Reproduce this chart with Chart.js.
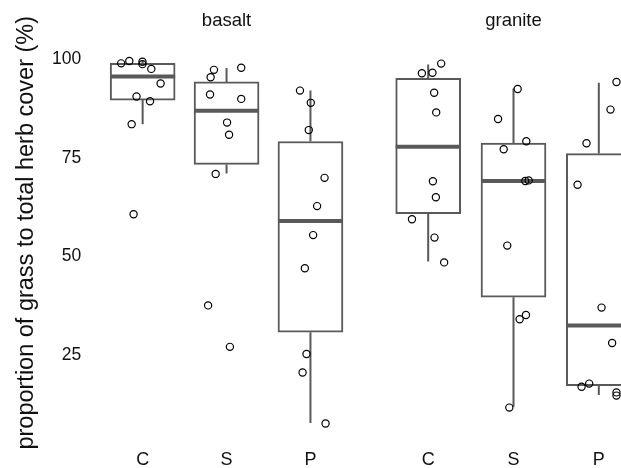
<!DOCTYPE html>
<html>
<head>
<meta charset="utf-8">
<script src="https://cdn.jsdelivr.net/npm/chart.js@4.4.1/dist/chart.umd.min.js"></script>
<style>
  html, body { margin: 0; padding: 0; background: #fff; overflow: hidden; width: 621px; height: 468px; position: relative; }
  canvas { position: absolute; top: 0; }
  #basalt { left: 0; }
  #granite { left: 370px; }
</style>
</head>
<body>
<canvas id="basalt" width="366" height="468"></canvas>
<canvas id="granite" width="290" height="468"></canvas>
<script>
const categories = ["C", "S", "P"];
const yTicks = [25, 50, 75, 100];
const yTitle = "proportion of grass to total herb cover (%)";

// box stats per category: whisker low, q1, median, q3, whisker high
const basaltLow = [83.5, 71, 7.8];
const basaltQ1 = [89.6, 73.3, 30.8];
const basaltMedian = [95.6, 86.9, 59];
const basaltQ3 = [98.9, 94.2, 79.1];
const basaltHigh = [99.5, 97.7, 92];

const graniteLow = [48.1, 11.8, 14.75];
const graniteQ1 = [60.1, 39.2, 17.1];
const graniteMedian = [76.8, 68.25, 32.1];
const graniteQ3 = [93.9, 77.7, 75.1];
const graniteHigh = [97.4, 91.4, 92.8];

// observations: category index + jitter, value
const basaltPointsX = [
  -0.256, -0.159, -0.002, -0.002, 0.103, 0.214, -0.073, 0.088, -0.131, -0.108,
  0.85, 0.81, 1.175, 0.803, 1.175, 1.006, 1.03, 0.87, 0.78, 1.04,
  1.875, 2.004, 1.98, 2.168, 2.079, 2.032, 1.933, 1.953, 1.906, 2.18
];
const basaltPointsY = [
  98.9, 99.5, 99.3, 98.7, 97.5, 93.8, 90.5, 89.3, 83.5, 60.7,
  97.25, 95.4, 97.8, 91, 89.9, 83.9, 80.8, 70.9, 37.6, 27.1,
  92, 88.9, 82, 69.9, 62.75, 55.4, 47, 25.3, 20.6, 7.7
];
const granitePointsX = [
  -0.074, 0.05, 0.152, 0.07, 0.094, 0.055, 0.09, -0.19, 0.074, 0.187,
  1.049, 0.819, 1.15, 0.885, 1.138, 1.178, 0.927, 1.146, 1.072, 0.951,
  2.207, 2.137, 1.856, 1.751, 2.032, 2.156, 1.798, 1.887, 2.207, 2.207
];
const granitePointsY = [
  95.2, 95.3, 97.6, 90.3, 85.4, 68.2, 64.2, 58.7, 54.1, 47.9,
  91.25, 83.75, 78.2, 76.2, 68.25, 68.4, 52.1, 34.75, 33.7, 11.6,
  93, 86.1, 77.7, 67.3, 36.6, 27.75, 16.8, 17.6, 15.4, 14.6
];

const BOX_COLOR = "#595959";
const TEXT_COLOR = "#111111";
const FONT = "'Liberation Sans', Arial, sans-serif";

function boxExtras(label, low, q1, q3, high, median) {
  return {
    id: "boxExtras",
    beforeDatasetDraw(chart, args) {
      if (args.meta.type !== "scatter") return;
      const { ctx } = chart;
      const x = chart.scales.x;
      const y = chart.scales.y;
      const bars = chart.getDatasetMeta(0).data;
      ctx.save();
      ctx.strokeStyle = BOX_COLOR;
      ctx.lineCap = "butt";
      categories.forEach((c, i) => {
        const cx = x.getPixelForValue(i);
        ctx.lineWidth = 2;
        ctx.beginPath();
        ctx.moveTo(cx, y.getPixelForValue(q3[i]));
        ctx.lineTo(cx, y.getPixelForValue(high[i]));
        ctx.moveTo(cx, y.getPixelForValue(q1[i]));
        ctx.lineTo(cx, y.getPixelForValue(low[i]));
        ctx.stroke();
        const bar = bars[i];
        ctx.lineWidth = 4;
        ctx.beginPath();
        ctx.moveTo(bar.x - bar.width / 2, y.getPixelForValue(median[i]));
        ctx.lineTo(bar.x + bar.width / 2, y.getPixelForValue(median[i]));
        ctx.stroke();
      });
      ctx.restore();
    },
    afterDraw(chart) {
      const { ctx, chartArea } = chart;
      ctx.save();
      ctx.fillStyle = TEXT_COLOR;
      ctx.font = "18.5px " + FONT;
      ctx.textAlign = "center";
      ctx.textBaseline = "middle";
      ctx.fillText(label, (chartArea.left + chartArea.right) / 2, 21);
      ctx.restore();
    }
  };
}

function buildChart(canvasId, label, low, q1, median, q3, high, pointsX, pointsY, showY, padding) {
  const canvas = document.getElementById(canvasId);
  return new Chart(canvas.getContext("2d"), {
    type: "bar",
    data: {
      datasets: [
        {
          type: "bar",
          order: 1,
          data: categories.map((c, i) => ({ x: i, y: [q1[i], q3[i]] })),
          backgroundColor: "#ffffff",
          borderColor: BOX_COLOR,
          borderWidth: 2,
          borderSkipped: false,
          barThickness: 65
        },
        {
          type: "scatter",
          order: 0,
          data: pointsX.map((px, i) => ({ x: px, y: pointsY[i] })),
          pointStyle: "circle",
          pointRadius: 3.6,
          pointBorderWidth: 1.2,
          pointBorderColor: "#000000",
          pointBackgroundColor: "rgba(0,0,0,0)"
        }
      ]
    },
    options: {
      responsive: false,
      animation: false,
      layout: { padding: padding },
      plugins: { legend: { display: false }, tooltip: { enabled: false } },
      scales: {
        x: {
          type: "linear",
          min: -0.6,
          max: 2.6,
          offset: false,
          grid: { display: false, drawTicks: false, offset: false },
          border: { display: false },
          afterBuildTicks: (scale) => { scale.ticks = categories.map((c, i) => ({ value: i })); },
          afterFit: (scale) => { scale.height = 24; },
          ticks: {
            padding: 5,
            color: TEXT_COLOR,
            font: { size: 18, family: FONT },
            callback: (value) => categories[value]
          }
        },
        y: {
          display: showY,
          min: 2.5,
          max: 109.5,
          grid: { display: false, drawTicks: false },
          border: { display: false },
          afterBuildTicks: (scale) => { scale.ticks = yTicks.map((v) => ({ value: v })); },
          afterFit: (scale) => { scale.width = showY ? 92.3 : 0; },
          ticks: {
            padding: 11,
            color: TEXT_COLOR,
            font: { size: 17.5, family: FONT }
          },
          title: {
            display: true,
            text: yTitle,
            color: TEXT_COLOR,
            padding: { top: 12, bottom: 0 },
            font: { size: 23.5, family: FONT }
          }
        }
      }
    },
    plugins: [boxExtras(label, low, q1, q3, high, median)]
  });
}

buildChart("basalt", "basalt", basaltLow, basaltQ1, basaltMedian, basaltQ3, basaltHigh,
  basaltPointsX, basaltPointsY, true, { top: 16, left: 0, right: 0, bottom: 0 });
buildChart("granite", "granite", graniteLow, graniteQ1, graniteMedian, graniteQ3, graniteHigh,
  granitePointsX, granitePointsY, false, { top: 16, left: 7, right: 10, bottom: 0 });
</script>
</body>
</html>
